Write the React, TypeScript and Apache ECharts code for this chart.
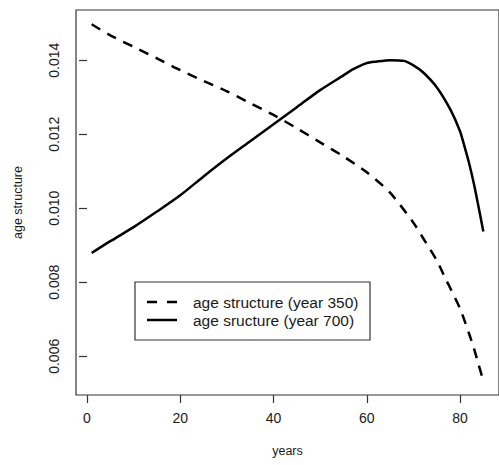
import React, { useEffect, useRef } from "react";
import * as echarts from "echarts";

const ages350 = [1, 5, 10, 15, 20, 25, 30, 35, 40, 45, 50, 55, 60, 65, 70, 72, 75, 77, 78, 80, 82, 83, 84, 85];
const values350 = [0.01497, 0.01467, 0.01436, 0.01405, 0.01373, 0.01344, 0.01316, 0.01284, 0.01252, 0.01216, 0.01178, 0.0114, 0.01097, 0.01042, 0.00961, 0.00921, 0.00859, 0.00807, 0.00782, 0.00729, 0.00659, 0.00621, 0.00577, 0.00534];

const ages700 = [1, 5, 10, 15, 20, 25, 30, 35, 40, 45, 50, 55, 57, 60, 62, 65, 68, 70, 72, 75, 78, 80, 81, 82, 83, 84, 85];
const values700 = [0.00879, 0.00911, 0.00949, 0.00991, 0.01035, 0.01086, 0.01135, 0.01181, 0.01227, 0.01273, 0.01319, 0.01359, 0.01375, 0.01392, 0.01396, 0.014, 0.01398, 0.01386, 0.01368, 0.01327, 0.01265, 0.01208, 0.01165, 0.01119, 0.01065, 0.01002, 0.00937];

const xTicks = [0, 20, 40, 60, 80];
const yTicks = [0.006, 0.008, 0.01, 0.012, 0.014];
const yTickLabels = ["0.006", "0.008", "0.010", "0.012", "0.014"];

const legendLabels = ["age structure (year 350)", "age sructure (year 700)"];

const FONT = "'Liberation Sans', Arial, sans-serif";
const INK = "#1a1a1a";

export default function App() {
  const ref = useRef<HTMLDivElement>(null);
  useEffect(() => {
    if (!ref.current) return;
    const chart = echarts.init(ref.current, null, { renderer: "svg" });
    const xMin = -2.36;
    const xMax = 88.36;
    const yMin = 0.004955;
    const yMax = 0.015355;
    chart.setOption({
      animation: false,
      backgroundColor: "#ffffff",
      grid: {
        left: 76,
        top: 10,
        bottom: 70,
        right: -10,
        show: true,
        borderColor: "#333333",
        borderWidth: 1.2,
        backgroundColor: "transparent",
      },
      xAxis: {
        type: "value",
        min: xMin,
        max: xMax,
        name: "years",
        nameLocation: "middle",
        nameGap: 49,
        nameTextStyle: { fontFamily: FONT, fontSize: 12.5, color: INK },
        axisLine: { show: false },
        axisTick: { show: true, length: 8, lineStyle: { color: "#333", width: 1.2 }, customValues: xTicks },
        axisLabel: { fontFamily: FONT, fontSize: 14, color: INK, margin: 16, customValues: xTicks, formatter: (v: number) => String(v) },
        splitLine: { show: false },
      },
      yAxis: {
        type: "value",
        min: yMin,
        max: yMax,
        name: "age structure",
        nameLocation: "middle",
        nameGap: 52,
        nameTextStyle: { fontFamily: FONT, fontSize: 12.5, color: INK },
        axisLine: { show: false },
        axisTick: { show: true, length: 8, lineStyle: { color: "#333", width: 1.2 }, customValues: yTicks },
        axisLabel: {
          fontFamily: FONT,
          fontSize: 14,
          color: INK,
          rotate: 90,
          margin: 15,
          customValues: yTicks,
          formatter: (v: number) => {
            const i = yTicks.findIndex((t) => Math.abs(t - v) < 1e-9);
            return i >= 0 ? yTickLabels[i] : "";
          },
        },
        splitLine: { show: false },
      },
      series: [
        {
          type: "line",
          name: legendLabels[0],
          data: ages350.map((a, i) => [a, values350[i]]),
          smooth: 0.25,
          showSymbol: false,
          lineStyle: { color: "#000", width: 2.5, type: [10, 8] },
        },
        {
          type: "line",
          name: legendLabels[1],
          data: ages700.map((a, i) => [a, values700[i]]),
          smooth: 0.25,
          showSymbol: false,
          lineStyle: { color: "#000", width: 2.5 },
        },
      ],
      graphic: [
        {
          type: "rect",
          shape: { x: 135, y: 282, width: 235, height: 58 },
          style: { fill: "#fff", stroke: "#333", lineWidth: 1.2 },
          z: 10,
        },
        {
          type: "line",
          shape: { x1: 147, y1: 302, x2: 177, y2: 302 },
          style: { stroke: "#000", lineWidth: 2.5, lineDash: [10, 10] },
          z: 11,
        },
        {
          type: "line",
          shape: { x1: 147, y1: 320, x2: 177, y2: 320 },
          style: { stroke: "#000", lineWidth: 2.5 },
          z: 11,
        },
        {
          type: "text",
          x: 193,
          y: 302,
          style: { text: legendLabels[0], font: `15.5px ${FONT}`, fill: INK, verticalAlign: "middle", align: "left" },
          z: 11,
        },
        {
          type: "text",
          x: 193,
          y: 320,
          style: { text: legendLabels[1], font: `15.5px ${FONT}`, fill: INK, verticalAlign: "middle", align: "left" },
          z: 11,
        },
      ],
    });
    return () => chart.dispose();
  }, []);
  return <div ref={ref} style={{ position: "fixed", left: 0, top: 0, width: 499, height: 465 }} />;
}
